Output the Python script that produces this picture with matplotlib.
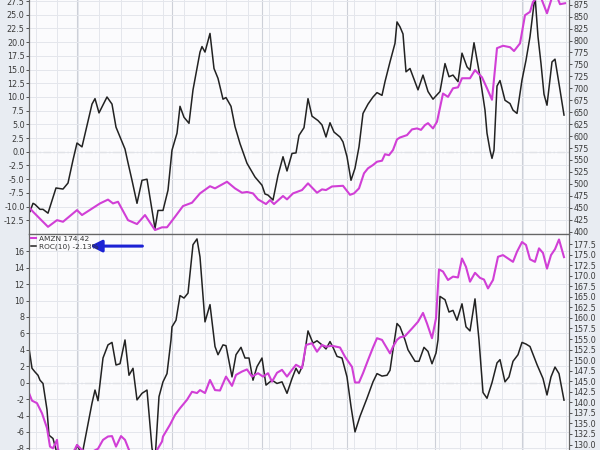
import numpy as np
import matplotlib
matplotlib.use("Agg")
import matplotlib.pyplot as plt

# ---- data (x = bar position from the left edge of the chart) ----
top_roc_x = [1, 4, 6, 11, 14, 19, 27, 34, 39, 44, 48, 53, 63, 66, 70, 78, 83, 87, 96, 99,
             103, 108, 113, 118, 126, 129, 134, 139, 143, 148, 151, 155, 160, 164, 171, 173,
             176, 181, 185, 189, 194, 197, 202, 206, 211, 218, 226, 233, 236, 239, 244, 249,
             254, 258, 263, 267, 270, 275, 279, 283, 289, 293, 297, 301, 305, 311, 314, 318,
             322, 326, 330, 334, 339, 344, 348, 353, 356, 361, 366, 368, 371, 374, 377, 381,
             389, 394, 399, 404, 411, 416, 420, 424, 429, 433, 438, 441, 445, 451, 456, 458,
             461, 463, 465, 468, 471, 476, 481, 484, 488, 493, 497, 501, 506, 509, 512, 515,
             518, 523, 526, 531, 535]
top_roc = [-10.9, -9.4, -9.6, -10.5, -10.5, -11.2, -6.6, -6.8, -5.7, -1.5, 1.6, 0.9, 8.7, 9.7, 7.1,
           10.0, 8.7, 4.5, 0.5, -2.0, -5.2, -9.4, -5.2, -5.0, -14.0, -10.7, -10.7, -7.0, 0.3, 3.4,
           8.3, 6.3, 5.2, 11.3, 18.2, 19.2, 18.2, 21.6, 15.2, 13.4, 9.6, 9.9, 8.3, 4.6, 1.5, -2.1,
           -4.6, -6.1, -7.7, -7.9, -8.8, -4.3, -0.9, -3.5, -0.3, -0.2, 3.0, 4.4, 9.7, 6.5, 5.7,
           4.9, 2.7, 5.3, 3.6, 2.7, 1.8, -0.9, -5.2, -3.0, 0.9, 7.0, 8.7, 10.0, 10.8, 10.3, 12.8,
           16.4, 19.8, 23.7, 22.8, 21.5, 14.6, 15.2, 11.3, 14.0, 11.0, 9.6, 11.0, 16.1, 13.7, 14.0,
           12.8, 18.0, 15.5, 14.9, 19.9, 13.7, 7.6, 3.4, 0.3, -1.2, 0.3, 12.0, 13.0, 9.4, 8.8,
           7.6, 7.0, 13.1, 16.7, 21.0, 28.5, 21.0, 16.1, 10.5, 8.5, 16.4, 16.9, 11.3, 6.7]

top_px_x = [1, 4, 19, 28, 34, 48, 53, 71, 79, 84, 89, 99, 108, 116, 126, 133, 138, 146, 154, 163,
            171, 181, 186, 198, 206, 213, 218, 224, 229, 237, 241, 245, 254, 258, 264, 273, 279,
            288, 293, 297, 303, 314, 321, 325, 330, 335, 339, 344, 348, 353, 356, 360, 364, 368,
            371, 378, 383, 388, 392, 396, 399, 404, 408, 414, 419, 424, 429, 433, 441, 446, 453,
            458, 463, 468, 474, 481, 485, 491, 496, 501, 504, 511, 518, 523, 528, 531, 536]
top_px = [448.7, 441.6, 410, 424, 420.6, 445, 434.7, 459, 467, 459, 462.5, 424, 415.8, 434.7,
          403.3, 409, 409, 431, 453.5, 460.5, 480, 495, 490.5, 504.4, 490.5, 481.4, 483, 480,
          467.5, 457.7, 466, 457.7, 474.5, 467.5, 480, 487, 501, 481.4, 488.4, 487, 494.5, 495.9,
          477, 480, 490.5, 522, 532.5, 539.4, 546.3, 548.4, 562, 560, 570.8, 593, 597, 602, 614,
          616, 613, 623, 627, 616, 630, 689, 682, 700, 702, 721, 721, 738, 723, 700, 676, 784,
          789, 786, 778, 794, 853, 860, 881, 895, 857, 890, 892, 876, 878]

bot_roc_x = [0, 3, 6, 9, 11, 14, 18, 20, 24, 28, 33, 43, 48, 51, 54, 63, 66, 69, 74, 79,
             83, 87, 91, 96, 100, 104, 108, 113, 118, 123, 126, 130, 134, 138, 142, 143, 147,
             151, 155, 159, 164, 168, 171, 176, 181, 186, 189, 194, 197, 203, 207, 212, 216,
             220, 224, 228, 233, 237, 243, 248, 253, 258, 263, 267, 270, 274, 279, 284, 288,
             293, 297, 301, 304, 308, 313, 318, 322, 326, 331, 338, 344, 348, 353, 358, 361,
             364, 368, 371, 376, 379, 386, 390, 395, 399, 403, 407, 409, 411, 416, 420, 424,
             428, 433, 437, 441, 446, 450, 454, 458, 463, 468, 471, 476, 480, 484, 489, 493,
             497, 501, 508, 514, 518, 522, 526, 530, 535]
bot_roc = [4.2, 1.75, 1.3, 0.9, 0.3, -0.1, -3.3, -6.4, -6.8, -8.6, -10.0, -9.5, -7.6, -8.3, -8.2,
           -2.5, -0.9, -2.2, 3.0, 4.6, 4.9, 2.15, 2.3, 5.2, 0.9, 1.75, -2.1, -1.3, -0.9, -8.0,
           -9.5, -1.7, 0.1, 1.1, 5.2, 6.8, 7.6, 10.6, 10.3, 10.9, 16.8, 17.5, 15.3, 7.4, 9.5, 4.4,
           3.4, 4.6, 4.5, 0.7, 3.4, 4.3, 3.0, 3.0, 0.3, 1.95, 3.0, -0.3, 0.3, -0.1, 0.1, -1.3,
           0.5, 1.75, 1.1, 2.2, 6.3, 4.8, 5.1, 4.6, 4.1, 5.0, 4.3, 3.2, 3.0, 0.7, -2.9, -6.0,
           -4.1, -1.9, 0.1, 1.1, 0.8, 0.9, 1.5, 4.0, 7.2, 6.8, 5.2, 4.0, 2.6, 2.6, 4.3, 3.8, 2.3,
           3.6, 5.2, 10.5, 10.1, 8.6, 8.8, 7.6, 9.6, 6.8, 6.3, 10.2, 5.2, -1.2, -1.9, 0.0, 2.4,
           2.8, 0.1, 0.7, 2.6, 3.4, 4.9, 4.7, 4.4, 2.2, 0.5, -1.5, 0.7, 1.9, 1.1, -2.13]

bot_px_x = [0, 3, 8, 13, 18, 21, 24, 28, 29, 36, 43, 48, 53, 61, 69, 74, 79, 83, 87, 92, 96, 100,
            106, 116, 123, 128, 133, 134, 141, 146, 151, 158, 163, 168, 171, 176, 181, 186, 191,
            197, 203, 207, 213, 218, 223, 229, 234, 239, 243, 248, 253, 258, 263, 267, 273, 277,
            283, 288, 293, 297, 303, 311, 316, 323, 326, 330, 334, 339, 344, 348, 353, 357, 361,
            364, 368, 371, 376, 383, 389, 394, 398, 403, 407, 410, 414, 419, 424, 429, 433, 437,
            441, 446, 451, 455, 459, 464, 469, 474, 479, 484, 488, 493, 497, 501, 506, 510, 514,
            518, 522, 526, 530, 535]
bot_px = [142.2, 140.4, 139.8, 137.4, 133.9, 129.5, 129.1, 131.1, 128.8, 127.0, 127.5, 129.9,
          128.7, 128.0, 129.0, 131.1, 131.9, 132.0, 129.5, 132.0, 131.1, 128.7, 126.0, 125.0,
          126.0, 128.7, 130.7, 131.9, 134.7, 137.0, 138.6, 140.6, 142.5, 142.2, 142.9, 142.2,
          145.3, 142.9, 142.8, 146.1, 143.9, 146.5, 147.3, 147.8, 146.1, 146.9, 146.1, 146.9,
          144.9, 147.0, 147.7, 146.1, 147.7, 148.9, 148.1, 153.6, 154.0, 152.0, 153.6, 153.2,
          153.4, 153.0, 150.8, 148.4, 144.7, 144.7, 146.9, 150.0, 153.0, 155.2, 154.8, 153.2,
          151.6, 153.2, 154.8, 155.4, 155.7, 157.5, 159.1, 161.2, 158.7, 155.2, 159.9, 171.5,
          171.0, 169.0, 169.8, 169.6, 174.1, 172.1, 168.6, 170.7, 169.5, 169.1, 167.0, 169.0,
          174.5, 174.9, 174.1, 173.3, 175.7, 178.0, 177.3, 173.9, 173.3, 176.5, 175.4, 171.7,
          174.9, 176.3, 178.6, 174.42]

top_left_ticks = np.arange(-12.5, 27.6, 2.5)
top_right_ticks = np.arange(400, 876, 25)
bot_left_ticks = np.arange(-8, 17, 2)
bot_right_ticks = np.arange(130, 177.6, 2.5)

week_lines = np.arange(6.7, 540, 21.2)
month_lines = [48, 143, 233, 318, 406, 493]

# ---- style ----
PRICE = "#d13fd6"
ROC = "#222222"
FIG_BG = "#e8ecf2"
PANEL_BG = "#fbfbfd"
SPINE = "#666666"
TXT = "#3a3a3a"

plt.rcParams["font.family"] = ["DejaVu Sans"]

fig = plt.figure(figsize=(6, 4.5), dpi=100, facecolor=FIG_BG)
L, W = 29 / 600, 540 / 600
ax_top = fig.add_axes([L, 216 / 450, W, 234 / 450], facecolor=PANEL_BG)
ax_bot = fig.add_axes([L, 0, W, 216 / 450], facecolor=PANEL_BG)


def style_panel(ax, left_ticks, right_ticks, ylim_l, ylim_r, fmt_l, fmt_r):
    ax.set_xlim(0, 540)
    ax.set_ylim(*ylim_l)
    ax.set_xticks(month_lines)
    ax.set_xticks(week_lines, minor=True)
    ax.grid(which="major", axis="x", color="#cdd0d8", lw=0.8)
    ax.grid(which="minor", axis="x", color="#e4e6ec", lw=0.7)
    ax.set_yticks(left_ticks)
    ax.set_yticklabels([fmt_l.format(v) for v in left_ticks])
    ax.grid(which="major", axis="y", color="#e4e6ec", lw=0.7)
    ax.tick_params(axis="x", which="both", length=0, labelbottom=False)
    ax.tick_params(axis="y", labelsize=5.8, colors=TXT, length=2, pad=1.2, width=0.6)
    ax.axhline(0, color="#8a8a8a", lw=0.8, ls=(0, (7, 2, 1.5, 2)), zorder=1)
    for s in ax.spines.values():
        s.set_color(SPINE)
        s.set_linewidth(0.8)
    axr = ax.twinx()
    axr.set_ylim(*ylim_r)
    axr.set_yticks(right_ticks)
    axr.set_yticklabels([fmt_r.format(v) for v in right_ticks])
    axr.tick_params(axis="y", labelsize=5.8, colors=TXT, length=2, pad=1.2, width=0.6)
    for s in axr.spines.values():
        s.set_color(SPINE)
        s.set_linewidth(0.8)
    return axr


ax_top_r = style_panel(ax_top, top_left_ticks, top_right_ticks, (-15.0, 27.7), (395, 884.8),
                       "{:.1f}", "{:.0f}")
ax_bot_r = style_panel(ax_bot, bot_left_ticks, bot_right_ticks, (-8.2, 18.1), (128.7, 179.9),
                       "{:.0f}", "{:.1f}")
for a in (ax_top, ax_top_r):
    a.spines["top"].set_visible(False)
for a in (ax_bot, ax_bot_r):
    a.spines["bottom"].set_visible(False)

ax_top.plot(top_roc_x, top_roc, color=ROC, lw=1.1, zorder=3)
ax_top_r.plot(top_px_x, top_px, color=PRICE, lw=1.5, zorder=2)

l_roc, = ax_bot.plot(bot_roc_x, bot_roc, color=ROC, lw=1.1, zorder=3)
l_px, = ax_bot_r.plot(bot_px_x, bot_px, color=PRICE, lw=1.5, zorder=2)

leg = ax_bot_r.legend([l_px, l_roc],
                      [f"AMZN {bot_px[-1]:.2f}", f"ROC(10) {bot_roc[-1]:.2f}%"],
                      loc="upper left", frameon=False, fontsize=5.3, handlelength=0.7,
                      handletextpad=0.35, labelspacing=0.15, borderaxespad=0.15,
                      borderpad=0.1)
for t in leg.get_texts():
    t.set_color("#333333")

ax_bot_r.annotate("", xy=(0.113, 0.944), xytext=(0.21, 0.944), xycoords="axes fraction",
                  arrowprops=dict(arrowstyle="-|>,head_width=0.35,head_length=0.7",
                                  color="#1c22d4", lw=2.2, shrinkA=0, shrinkB=0))

fig.savefig("out.png", dpi=100, facecolor=FIG_BG)
